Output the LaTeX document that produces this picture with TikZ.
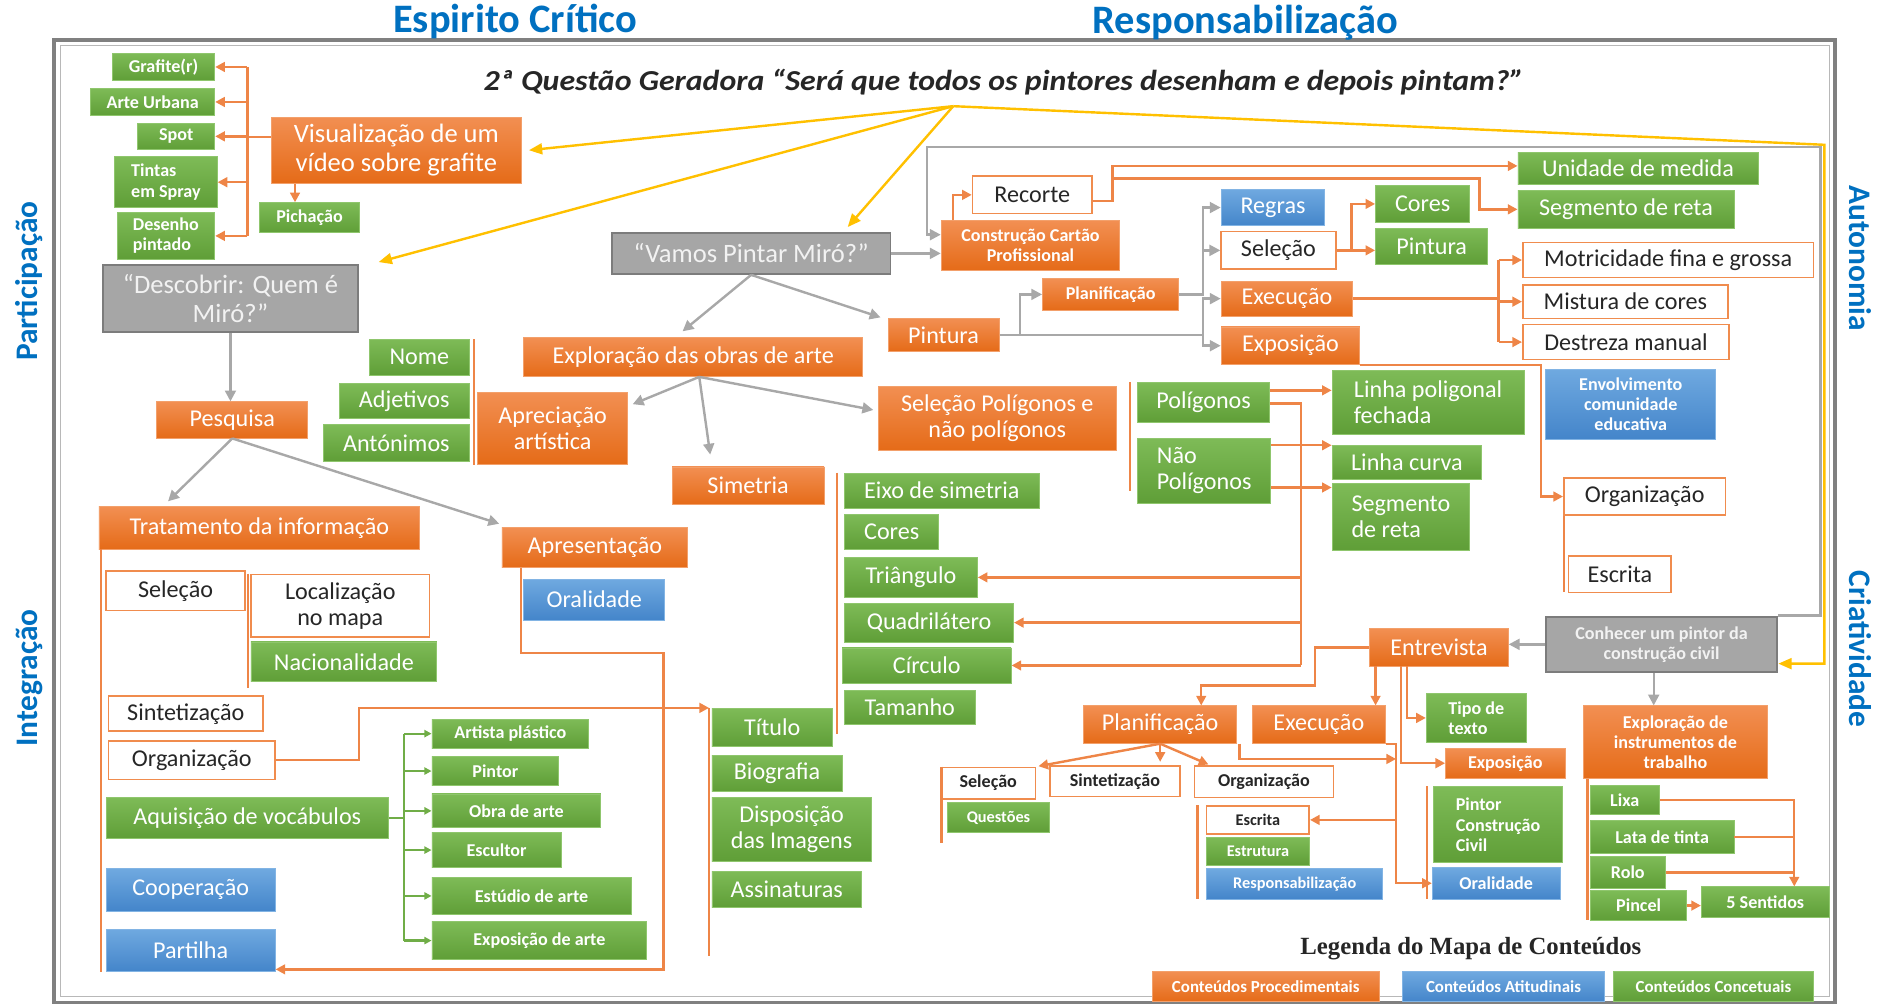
\documentclass[tikz,border=0pt]{standalone}
\usepackage{fontspec}
\setmainfont{Carlito}
\newfontfamily\legfont{Liberation Serif}
\usetikzlibrary{arrows.meta}

\definecolor{orT}{HTML}{F28F52}
\definecolor{orB}{HTML}{E56B18}
\definecolor{orE}{HTML}{F3A06B}
\definecolor{grT}{HTML}{7EBB57}
\definecolor{grB}{HTML}{5F9E37}
\definecolor{grE}{HTML}{8FC66D}
\definecolor{blT}{HTML}{6FA9E0}
\definecolor{blB}{HTML}{4485CA}
\definecolor{blE}{HTML}{82B4E4}
\definecolor{gyF}{HTML}{A6A6A6}
\definecolor{gyE}{HTML}{7C7C7C}
\definecolor{gyT}{HTML}{F2F2F2}
\definecolor{orC}{HTML}{EE8547}
\definecolor{orW}{HTML}{F08C4E}
\definecolor{gyC}{HTML}{A8A8A8}
\definecolor{ylC}{HTML}{FFC000}
\definecolor{grC}{HTML}{70AD47}
\definecolor{ttlC}{HTML}{0070C0}
\definecolor{txtC}{HTML}{262626}
\definecolor{frD}{HTML}{808080}
\definecolor{frL}{HTML}{B8B8B8}

\newcommand\fstd{\fontsize{20}{21.5}\selectfont}
\newcommand\fbig{\fontsize{22}{23.5}\selectfont}
\newcommand\fsml{\fontsize{15}{16.8}\selectfont\bfseries}
\newcommand\ftny{\fontsize{13.5}{15}\selectfont\bfseries}

% box given by its corners: [extra]{style}{x1}{y1}{x2}{y2}{name}
\newcommand\bxnode[7][]{%
  \pgfmathsetmacro\bxw{#5-#3}%
  \pgfmathsetmacro\bxh{#6-#4}%
  \pgfmathsetmacro\bxx{(#3+#5)/2}%
  \pgfmathsetmacro\bxy{(#4+#6)/2}%
  \node[#2,minimum width=\bxw pt,minimum height=\bxh pt,#1] (#7) at (\bxx,\bxy)}

\tikzset{
  base/.style={inner xsep=2pt, inner ysep=1pt, align=center, font=\fstd, text=white, line width=0.7pt},
  orbox/.style={base, top color=orT, bottom color=orB, draw=orE},
  grbox/.style={base, top color=grT, bottom color=grB, draw=grE},
  blbox/.style={base, top color=blT, bottom color=blB, draw=blE},
  whbox/.style={base, fill=white, draw=orW, text=txtC, line width=1.3pt},
  gybox/.style={base, fill=gyF, draw=gyE, text=gyT, line width=1.6pt},
  fsS/.style={font=\fsml},
  fsT/.style={font=\ftny},
  fsL/.style={font=\fontsize{14}{15}\selectfont\bfseries},
  fsB/.style={font=\fbig},
  oline/.style={draw=orC, line width=2pt},
  oarr/.style={oline, -{Triangle[length=8pt,width=8pt]}},
  gline/.style={draw=gyC, line width=2pt},
  garr/.style={gline, -{Triangle[length=9pt,width=9pt]}},
  grline/.style={draw=grC, line width=1.8pt},
  grarr/.style={grline, -{Triangle[length=6pt,width=6pt]}},
  yarr/.style={draw=ylC, line width=2pt, -{Triangle[length=11pt,width=9pt]}},
  ttl/.style={font=\fontsize{33.5}{35}\selectfont\bfseries, text=ttlC},
  sidettl/.style={font=\fontsize{26}{28}\selectfont\bfseries, text=ttlC},
}

\begin{document}
\begin{tikzpicture}[x=1pt,y=-1pt]
\path[use as bounding box] (0,0) rectangle (1568,832);

% frame
\draw[line width=3.5pt, draw=frD] (45,33) rectangle (1521,831);
\draw[line width=1pt, draw=frL] (50,38) rectangle (1516,826);

% titles
\node[ttl] (tcrit) at (427,18) {Espirito Crítico};
\node[ttl] (tresp) at (1032,19) {Responsabilização};
\node[sidettl, rotate=90] (tpart) at (24,233) {Participação};
\node[sidettl, rotate=90] (tinteg) at (24,562) {Integração};
\node[sidettl, rotate=-90] (tauto) at (1542,214) {Autonomia};
\node[sidettl, rotate=-90] (tcria) at (1542,538) {Criatividade};
\node[font=\fontsize{24}{26}\selectfont\bfseries\itshape, text=txtC] (quest) at (832,68)
  {\scalebox{1.1}[1]{2ª Questão Geradora “Será que todos os pintores desenham e depois pintam?”}};

% ---- left column
\bxnode[fsS]{grbox}{93}{44}{178}{67}{graf}{Grafite(r)};
\bxnode[fsS]{grbox}{75}{73}{178}{96}{arte}{Arte Urbana};
\bxnode[fsS]{grbox}{114}{102}{178}{124}{spot}{Spot};
\bxnode[fsS,align=left]{grbox}{95}{130}{180}{172}{tint}{Tintas\\em Spray};
\bxnode[fsS,align=left]{grbox}{97}{176}{178}{215}{dese}{Desenho\\pintado};
\bxnode[fsB]{orbox}{225}{97}{432}{152}{vis}{Visualização de um\\vídeo sobre grafite};
\bxnode[fsS]{grbox}{215}{168}{298}{193}{pich}{Pichação};
\bxnode[fsB]{gybox}{85}{220}{297}{275}{desc}{“Descobrir: Quem é\\Miró?”};
\bxnode{orbox}{130}{333}{255}{363}{pesq}{Pesquisa};
\bxnode{orbox}{82}{420}{348}{455}{trat}{Tratamento da informação};
\bxnode{whbox}{88}{473}{203}{506}{sel0}{Seleção};
\bxnode{whbox}{208}{476}{356}{528}{loc}{Localização\\no mapa};
\bxnode{grbox}{208}{532}{362}{565}{nac}{Nacionalidade};
\bxnode{whbox}{90}{577}{218}{606}{sin0}{Sintetização};
\bxnode{whbox}{90}{614}{228}{646}{org0}{Organização};
\bxnode{grbox}{88}{661}{322}{695}{aq}{Aquisição de vocábulos};
\bxnode{blbox}{88}{720}{228}{755}{coop}{Cooperação};
\bxnode{blbox}{88}{770}{228}{805}{part}{Partilha};
\bxnode[fsS]{grbox}{358}{596}{488}{620}{vart}{Artista plástico};
\bxnode[fsS]{grbox}{358}{627}{463}{651}{vpin}{Pintor};
\bxnode[fsS]{grbox}{358}{658}{498}{686}{vobr}{Obra de arte};
\bxnode[fsS]{grbox}{358}{690}{465}{719}{vesc}{Escultor};
\bxnode[fsS]{grbox}{358}{727}{523}{758}{vest}{Estúdio de arte};
\bxnode[fsS]{grbox}{358}{764}{536}{795}{vexp}{Exposição de arte};
\bxnode{orbox}{416}{437}{570}{470}{apres}{Apresentação};
\bxnode{blbox}{434}{480}{551}{514}{oral1}{Oralidade};

% ---- middle column
\bxnode[fsB]{gybox}{507}{193}{738}{227}{vamos}{“Vamos Pintar Miró?”};
\bxnode{orbox}{434}{280}{715}{312}{expl}{Exploração das obras de arte};
\bxnode{grbox}{306}{281}{389}{311}{nome}{Nome};
\bxnode{grbox}{281}{318}{389}{347}{adj}{Adjetivos};
\bxnode{grbox}{268}{352}{389}{382}{ant}{Antónimos};
\bxnode{orbox}{396}{325}{520}{385}{apr}{Apreciação\\artística};
\bxnode{orbox}{557}{387}{683}{418}{sim}{Simetria};
\bxnode{orbox}{728}{320}{925}{373}{selp}{Seleção Polígonos e\\não polígonos};
\bxnode{grbox}{700}{392}{861}{421}{eixo}{Eixo de simetria};
\bxnode{grbox}{700}{426}{778}{455}{cor0}{Cores};
\bxnode{grbox}{700}{462}{810}{495}{tri}{Triângulo};
\bxnode{grbox}{700}{500}{840}{532}{quad}{Quadrilátero};
\bxnode{grbox}{698}{537}{838}{566}{circ}{Círculo};
\bxnode{grbox}{700}{572}{808}{600}{tam}{Tamanho};
\bxnode{grbox}{590}{587}{690}{619}{tit}{Título};
\bxnode{grbox}{590}{626}{698}{656}{bio}{Biografia};
\bxnode{grbox}{590}{661}{722}{714}{disp}{Disposição\\das Imagens};
\bxnode{grbox}{590}{722}{714}{752}{ass}{Assinaturas};
\bxnode{orbox}{736}{264}{828}{291}{pint0}{Pintura};
\bxnode{grbox}{943}{317}{1052}{350}{pol}{Polígonos};
\bxnode[align=left]{grbox}{943}{363}{1053}{417}{np}{Não\\Polígonos};
\bxnode[align=left]{grbox}{1104}{307}{1263}{360}{lpf}{Linha poligonal\\fechada};
\bxnode{grbox}{1104}{369}{1228}{397}{lc}{Linha curva};
\bxnode[align=left]{grbox}{1104}{401}{1218}{456}{sr2}{Segmento\\de reta};

% ---- upper right
\bxnode{whbox}{806}{146}{905}{177}{rec}{Recorte};
\bxnode[fsS]{orbox}{780}{183}{928}{224}{cons}{Construção Cartão\\Profissional};
\bxnode{grbox}{1258}{126}{1457}{153}{un}{Unidade de medida};
\bxnode{grbox}{1258}{158}{1437}{189}{sr1}{Segmento de reta};
\bxnode{blbox}{1012}{157}{1098}{187}{regr}{Regras};
\bxnode{whbox}{1012}{192}{1107}{223}{sel1}{Seleção};
\bxnode{grbox}{1140}{154}{1218}{184}{cor1}{Cores};
\bxnode{grbox}{1140}{189}{1233}{219}{pin1}{Pintura};
\bxnode[fsS]{orbox}{864}{231}{977}{257}{plan1}{Planificação};
\bxnode{orbox}{1012}{233}{1121}{262}{exe1}{Execução};
\bxnode{orbox}{1012}{271}{1127}{302}{expo1}{Exposição};
\bxnode{whbox}{1262}{201}{1503}{230}{mot}{Motricidade fina e grossa};
\bxnode{whbox}{1262}{236}{1432}{264}{mis}{Mistura de cores};
\bxnode{whbox}{1262}{269}{1433}{298}{des}{Destreza manual};
\bxnode[fsS]{blbox}{1281}{306}{1422}{364}{env}{Envolvimento\\comunidade\\educativa};
\bxnode{whbox}{1296}{396}{1430}{427}{org2}{Organização};
\bxnode{whbox}{1300}{461}{1385}{491}{esc1}{Escrita};

% ---- lower right
\bxnode[fsS]{gybox}{1281}{511}{1473}{557}{conh}{Conhecer um pintor da\\construção civil};
\bxnode{orbox}{1135}{521}{1250}{552}{entr}{Entrevista};
\bxnode{orbox}{898}{585}{1025}{616}{plan2}{Planificação};
\bxnode{orbox}{1038}{585}{1148}{616}{exe2}{Execução};
\bxnode[fsS,align=left]{grbox}{1182}{575}{1265}{615}{tip}{Tipo de\\texto};
\bxnode[fsS]{orbox}{1198}{620}{1297}{645}{expo2}{Exposição};
\bxnode[fsS]{whbox}{780}{636}{858}{662}{sel2}{Seleção};
\bxnode[fsS]{whbox}{870}{635}{978}{660}{sin2}{Sintetização};
\bxnode[fsS]{whbox}{990}{635}{1105}{661}{org3}{Organização};
\bxnode[fsT]{grbox}{785}{665}{870}{690}{ques}{Questões};
\bxnode[fsT]{whbox}{1000}{668}{1085}{691}{esc2}{Escrita};
\bxnode[fsT]{grbox}{1000}{694}{1085}{717}{estr}{Estrutura};
\bxnode[fsT]{blbox}{1000}{720}{1146}{745}{resp}{Responsabilização};
\bxnode[fsS,align=left]{grbox}{1188}{652}{1295}{715}{pcc}{Pintor\\Construção\\Civil};
\bxnode[fsS]{blbox}{1187}{719}{1293}{745}{oral2}{Oralidade};
\bxnode[fsS]{orbox}{1312}{585}{1465}{645}{exi}{Exploração de\\instrumentos de\\trabalho};
\bxnode[fsS]{grbox}{1318}{651}{1375}{675}{lixa}{Lixa};
\bxnode[fsS]{grbox}{1318}{680}{1437}{707}{lata}{Lata de tinta};
\bxnode[fsS]{grbox}{1318}{710}{1380}{736}{rolo}{Rolo};
\bxnode[fsS]{grbox}{1318}{738}{1398}{763}{pinc}{Pincel};
\bxnode[fsS]{grbox}{1410}{735}{1516}{760}{sent}{5 Sentidos};

% ---- legend
\node[font=\legfont\fontsize{20.5}{22}\selectfont\bfseries, text=txtC] (legt) at (1219,786) {Legenda do Mapa de Conteúdos};
\bxnode[fsL]{orbox}{955}{805}{1143}{830}{lg1}{Conteúdos Procedimentais};
\bxnode[fsL]{blbox}{1162}{805}{1330}{830}{lg2}{Conteúdos Atitudinais};
\bxnode[fsL]{grbox}{1337}{805}{1503}{830}{lg3}{Conteúdos Concetuais};

% ---- yellow links from the guiding question
\coordinate (hub) at (790,88);
\coordinate (ycor) at (1512,120);
\draw[yarr] (hub) -- ([xshift=6pt]vis.east);
\draw[yarr] (hub) -- ([xshift=16pt,yshift=2pt]desc.north east);
\draw[yarr] (hub) -- ([xshift=80pt,yshift=4pt]vamos.north);
\draw[yarr] (hub) -- (ycor) |- ([yshift=-16pt]conh.east);

% ---- grey links
\coordinate (gtop) at (768,122);
\draw[garr] (conh.north east) -- ++(35,0) |- (gtop) |- ([yshift=9pt]cons.west);
\draw[garr] (desc.south) -- (desc.south |- pesq.north);
\draw[garr, shorten >=6pt] (pesq.south) -- ([xshift=-80pt]trat.north);
\draw[garr, shorten >=2pt] (pesq.south) -- ([yshift=2pt]apres.north west);
\draw[garr] (vamos.east) -- (vamos.east -| cons.west);
\draw[garr, shorten >=8pt] (vamos.south) -- ([xshift=-15pt]expl.north);
\draw[garr, shorten >=2pt] (vamos.south) -- ([xshift=-4pt]pint0.north west);
\draw[garr] ([xshift=5pt]expl.south) -- ([xshift=4pt,yshift=20pt]apr.east);
\draw[garr, shorten >=10pt] ([xshift=5pt]expl.south) -- ([xshift=-30pt]sim.north);
\draw[garr, shorten >=4pt] ([xshift=5pt]expl.south) -- ([yshift=6pt]selp.west);
\coordinate (gj) at (997,0);
\draw[garr] (pint0.east) -- ++(17,0) |- (plan1.west);
\draw[gline] (pint0.east) -- (pint0.east -| gj);
\draw[garr] (pint0.east -| gj) |- (exe1.west);
\draw[garr] (pint0.east -| gj) |- (expo1.west);
\draw[garr] (plan1.east) -- (plan1.east -| gj) |- (regr.west);
\draw[garr] (plan1.east -| gj) |- (sel1.west);
\draw[garr] (conh.west) -- (conh.west -| entr.east);
\coordinate (ci) at ([xshift=-18pt]exi.north);
\draw[garr] (ci |- conh.south) -- (ci);

% ---- orange links, left part
\coordinate (bv) at (205,0);
\coordinate (v1) at ([yshift=11pt]vis.west);
\draw[oline] (v1) -- (v1 -| bv);
\draw[oline] (graf.east -| bv) -- (dese.east -| bv);
\foreach \n in {graf,arte,spot,tint,dese} \draw[oarr] (\n.east -| bv) -- (\n.east);
\coordinate (pa) at ([xshift=-12pt]pich.north);
\draw[oarr] (pa |- vis.south) -- (pa);
\draw[oline] ([xshift=2pt]trat.south west) -- ++(0,350);
\draw[oline] ([xshift=-2pt]loc.north west) -- ++(0,95);
\coordinate (tb) at ([xshift=-2pt]tit.north west);
\draw[oarr] (org0.east) -- ++(69,0) |- (tb);
\draw[oline] (tb) -- ++(0,206);
\coordinate (ap1) at (550,541);
\draw[oarr] ([xshift=16pt]apres.south west) |- (ap1) |- ([yshift=2pt]part.south east);
\coordinate (gv) at (335,0);
\draw[grline] (aq.east) -- (aq.east -| gv);
\draw[grline] (vart.west -| gv) -- (vexp.west -| gv);
\foreach \n in {vart,vpin,vobr,vesc,vest,vexp} \draw[grarr] (\n.west -| gv) -- (\n.west);
\coordinate (ab1) at ([xshift=-3pt]apr.south west);
\draw[oline] (ab1) -- (ab1 |- nome.north);

% ---- orange links, middle part
\coordinate (sb) at ([xshift=-6pt]eixo.north west);
\draw[oline] (sb) -- ++(0,217);
\coordinate (pb) at ([xshift=-6pt]pol.north west);
\draw[oline] (pb) -- ++(0,90);
\coordinate (p1) at ([yshift=10pt]pol.east);
\draw[oarr] (p1) -- (p1 -| lpf.west);
\coordinate (vx) at (1078,0);
\coordinate (p2) at ([yshift=-1pt]pol.east);
\draw[oline] (p2) -- (p2 -| vx) -- (circ.east -| vx);
\foreach \n in {tri,quad,circ} \draw[oarr] (\n.east -| vx) -- (\n.east);
\coordinate (n1) at ([yshift=21pt]np.east);
\draw[oarr] (n1) -- (n1 -| lc.west);
\coordinate (n2) at ([yshift=-14pt]np.east);
\draw[oarr] (n2) -- (n2 -| sr2.west);

% ---- orange links, upper right
\draw[oarr] ([xshift=10pt]cons.north west) |- (rec.west);
\coordinate (rj) at (922,0);
\coordinate (r0) at ([yshift=-5pt]rec.east);
\draw[oarr] (r0) -- (r0 -| rj) |- ([yshift=2pt]un.west);
\coordinate (r2) at (922,148);
\coordinate (r3) at (1226,148);
\draw[oarr] (r2) -- (r3) |- (sr1.west);
\coordinate (s1) at (1120,0);
\draw[oline] (sel1.east) -- (sel1.east -| s1);
\draw[oarr] (sel1.east -| s1) |- (cor1.west);
\draw[oarr] (sel1.east) -- (sel1.east -| pin1.west);
\coordinate (e1) at (1242,0);
\draw[oline] (exe1.east) -- (exe1.east -| e1);
\draw[oline] (mot.west -| e1) -- (des.west -| e1);
\foreach \n in {mot,mis,des} \draw[oarr] (\n.west -| e1) -- (\n.west);
\coordinate (x1) at (1277,0);
\draw[oarr] (expo1.south east) -- (expo1.south east -| x1) |- (org2.west);
\coordinate (ob) at ([xshift=1pt]org2.south west);
\draw[oline] (ob) -- ++(0,63);

% ---- orange links, lower right
\coordinate (ea) at (1090,568);
\coordinate (eb) at ([xshift=34pt]plan2.north);
\draw[oarr] (entr.west) -| (ea) -| (eb);
\coordinate (eq) at (1140,0);
\draw[oarr] (entr.south -| eq) -- (exe2.north -| eq);
\coordinate (et) at (1166,0);
\draw[oarr] (entr.south -| et) |- (tip.west);
\coordinate (ex) at (1161,0);
\draw[oarr] (entr.south -| ex) |- (expo2.west);
\draw[oarr, shorten >=2pt] (plan2.south) -- (sel2.north east);
\draw[oarr, shorten >=3pt] (plan2.south) -- (plan2.south |- sin2.north);
\draw[oarr, shorten >=2pt] (plan2.south) -- ([xshift=14pt]org3.north west);
\coordinate (sb2) at ([xshift=1pt]sel2.north west);
\draw[oline] (sb2) -- ++(0,63);
\coordinate (ob3) at ([xshift=-7pt]esc2.north west);
\draw[oline] (ob3) -- (ob3 |- resp.south);
\coordinate (vq) at (1157,0);
\coordinate (pq) at (1157,629);
\draw[oarr] ([xshift=2pt]plan2.south east) |- (pq);
\draw[oarr] (exe2.south east) -- (exe2.south east -| vq) |- (oral2.west);
\draw[oarr] (esc2.east -| vq) -- (esc2.east);
\coordinate (pb2) at ([xshift=-5pt]pcc.north west);
\draw[oline] (pb2) -- (pb2 |- oral2.south);
\coordinate (xb) at ([xshift=4pt]exi.south west);
\draw[oline] (xb) -- ++(0,117);
\coordinate (lv) at (1487,0);
\draw[oarr] (lixa.east) -| (sent.north -| lv);
\draw[oline] (lata.east) -- (lata.east -| lv);
\draw[oline] (rolo.east) -- (rolo.east -| lv);
\draw[oarr] (pinc.east) -- (pinc.east -| sent.west);
\end{tikzpicture}
\end{document}
